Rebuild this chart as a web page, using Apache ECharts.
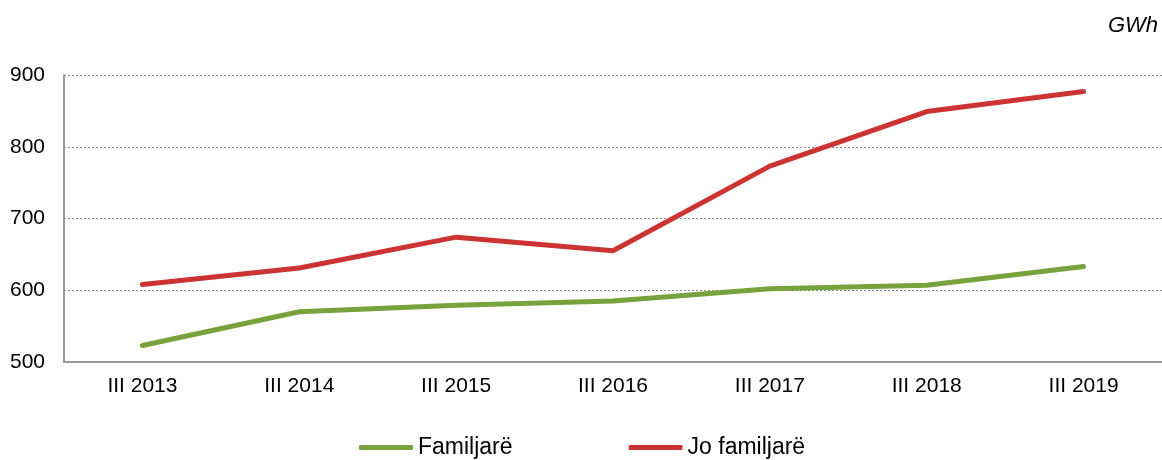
<!DOCTYPE html>
<html>
<head>
<meta charset="utf-8">
<script src="https://cdn.jsdelivr.net/npm/echarts@6/dist/echarts.min.js"></script>
<style>
  html, body { margin: 0; padding: 0; background: #fff; }
  #chart { width: 1162px; height: 460px; }
</style>
</head>
<body>
<div id="chart"></div>
<script>
  var categories = ['III 2013', 'III 2014', 'III 2015', 'III 2016', 'III 2017', 'III 2018', 'III 2019'];
  var familjare = [523, 570, 579, 585, 602, 607, 633];
  var joFamiljare = [608, 631, 674, 655, 773, 849, 877];

  var chart = echarts.init(document.getElementById('chart'));
  var option = {
    animation: false,
    textStyle: { fontFamily: 'Liberation Sans, Arial, sans-serif' },
    graphic: [{
      type: 'text',
      right: 4,
      top: 15,
      style: { text: 'GWh', font: 'italic 22px "Liberation Sans", Arial', fill: '#000' }
    }],
    legend: {
      top: 431,
      left: 354,
      itemGap: 116,
      itemWidth: 54,
      itemHeight: 5,
      icon: 'roundRect',
      textStyle: { color: '#000', fontSize: 23, padding: [0, 0, 0, 0] },
      data: ['Familjarë', 'Jo familjarë']
    },
    grid: { left: 64, right: 0, top: 75, bottom: 98 },
    xAxis: {
      type: 'category',
      data: categories,
      boundaryGap: true,
      axisLine: { lineStyle: { color: '#999', width: 2 } },
      axisTick: { show: false },
      axisLabel: { color: '#000', fontSize: 21, margin: 14 },
      splitLine: { show: false }
    },
    yAxis: {
      type: 'value',
      min: 500,
      max: 900,
      interval: 100,
      axisLine: { show: true, lineStyle: { color: '#999', width: 2 } },
      axisTick: { show: false },
      axisLabel: { color: '#000', fontSize: 21, margin: 19 },
      splitLine: { lineStyle: { color: '#888', type: [2, 2], width: 1 } }
    },
    series: [{
      name: 'Familjarë',
      type: 'line',
      data: familjare,
      symbol: 'none',
      lineStyle: { color: '#78A33C', width: 5, cap: 'round' },
      itemStyle: { color: '#78A33C' }
    }, {
      name: 'Jo familjarë',
      type: 'line',
      data: joFamiljare,
      symbol: 'none',
      lineStyle: { color: '#CC3333', width: 5, cap: 'round' },
      itemStyle: { color: '#CC3333' }
    }]
  };
  chart.setOption(option);
</script>
</body>
</html>
